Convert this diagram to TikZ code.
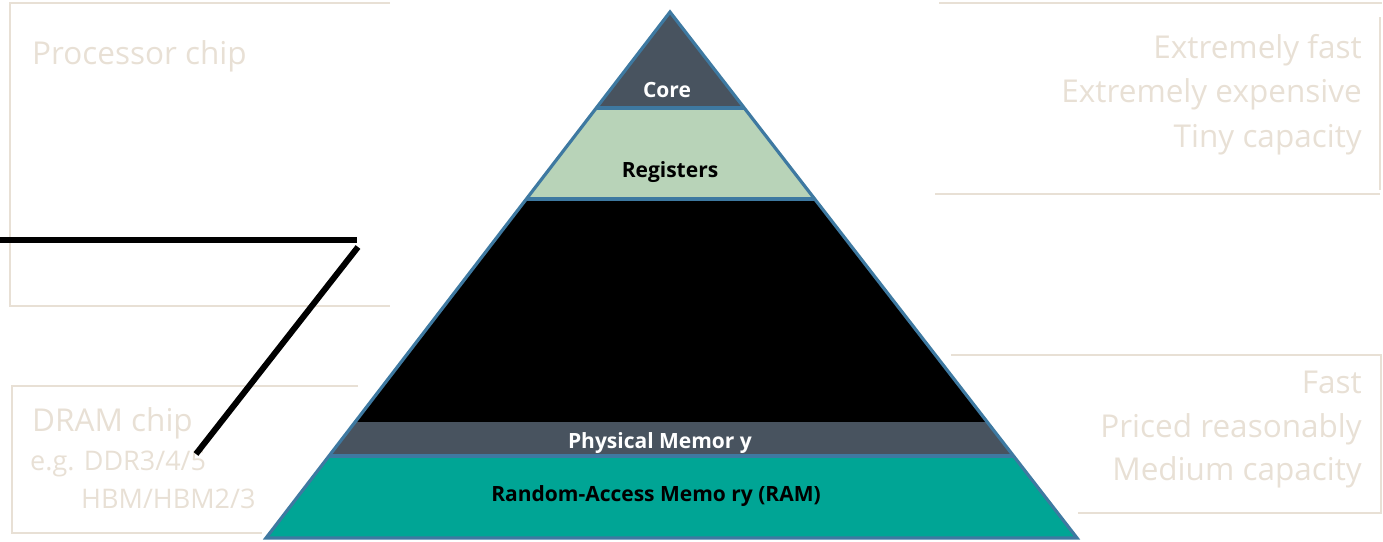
\documentclass[tikz,border=0pt]{standalone}
\usepackage{fontspec}
\setmainfont{Open Sans}
\newfontfamily\notefont{Open Sans}
\newfontfamily\layerfont{Open Sans}
\usetikzlibrary{calc}
\definecolor{beige}{HTML}{E8E0D5}
\definecolor{edgeblue}{HTML}{3E79A1}
\definecolor{slate}{HTML}{48535F}
\definecolor{sage}{HTML}{B8D3B8}
\definecolor{teal}{HTML}{00A595}
\tikzset{
  frame/.style={draw=beige, line width=2pt},
  note/.style={text=beige, inner sep=0pt, font=\notefont\fontsize{31.5}{36}\selectfont},
  smallnote/.style={text=beige, inner sep=0pt, font=\notefont\fontsize{27}{30}\selectfont},
  layerlabel/.style={inner sep=0pt, font=\layerfont\bfseries\fontsize{21}{24}\selectfont},
  sep/.style={draw=edgeblue, line width=3.2pt},
  wire/.style={draw=black, line width=6pt},
}
\begin{document}
\begin{tikzpicture}[x=1pt, y=-1pt]
\useasboundingbox (0,0) rectangle (1383,541);

% ---- pale frames ----
\draw[frame] (390,3) -- (10,3) -- (10,306) -- (390,306);
\draw[frame] (358,386) -- (12,386) -- (12,533) -- (262,533);
\draw[frame] (939,3) -- (1382,3);
\draw[frame] (1380,17) -- (1380,190);
\draw[frame] (935,194) -- (1380,194);
\draw[frame] (951,355) -- (1381,355) -- (1381,513) -- (1078,513);

% ---- pale captions ----
\node[note, anchor=base west] (proc) at (32,64) {Processor chip};
\node[note, anchor=base west] (dram) at (32,431) {DRAM chip};
\node[smallnote, anchor=base west] (ddr) at (30,470) {e.g. DDR3/4/5};
\node[smallnote, anchor=base west] (hbm) at (81,508) {HBM/HBM2/3};

\node[note, anchor=base east] (t1) at (1362,58) {Extremely fast};
\node[note, anchor=base east] (t2) at (1362,102) {Extremely expensive};
\node[note, anchor=base east] (t3) at (1362,147) {Tiny capacity};
\node[note, anchor=base east] (b1) at (1362,393) {Fast};
\node[note, anchor=base east] (b2) at (1362,437) {Priced reasonably};
\node[note, anchor=base east] (b3) at (1362,480) {Medium capacity};

% ---- pyramid ----
\coordinate (A) at (670,12);
\coordinate (BL) at (266,538);
\coordinate (BR) at (1077,538);
\foreach \n/\t in {a/0.1825, b/0.3555, c/0.7795, d/0.8441} {
  \coordinate (L\n) at ($(A)!\t!(BL)$);
  \coordinate (R\n) at ($(A)!\t!(BR)$);
}
\fill[slate] (A) -- (Ra) -- (La) -- cycle;
\fill[sage] (La) -- (Ra) -- (Rb) -- (Lb) -- cycle;
\fill[black] (Lb) -- (Rb) -- (Rc) -- (Lc) -- cycle;
\fill[slate] (Lc) -- (Rc) -- (Rd) -- (Ld) -- cycle;
\fill[teal] (Ld) -- (Rd) -- (BR) -- (BL) -- cycle;
\draw[sep] (La) -- (Ra);
\draw[sep] (Lb) -- (Rb);
\draw[sep] (Ld) -- (Rd);
\draw[sep, line join=miter] (A) -- (BR) -- (BL) -- cycle;

\node[layerlabel, text=white, anchor=base] (core) at (667,97) {Core};
\node[layerlabel, text=black, anchor=base] (reg) at (670,177) {Registers};
\node[layerlabel, text=white, anchor=base] (phys) at (660,448) {Physical Memor y};
\node[layerlabel, text=black, anchor=base] (ram) at (656,501) {Random-Access Memo ry (RAM)};

% ---- black leader ----
\coordinate (w0) at (0,240);
\coordinate (w1) at (357,240);
\coordinate (w2) at (358,247);
\coordinate (w3) at (196,454);
\draw[wire] (w0) -- (w1);
\draw[wire] (w2) -- (w3);
\end{tikzpicture}
\end{document}
